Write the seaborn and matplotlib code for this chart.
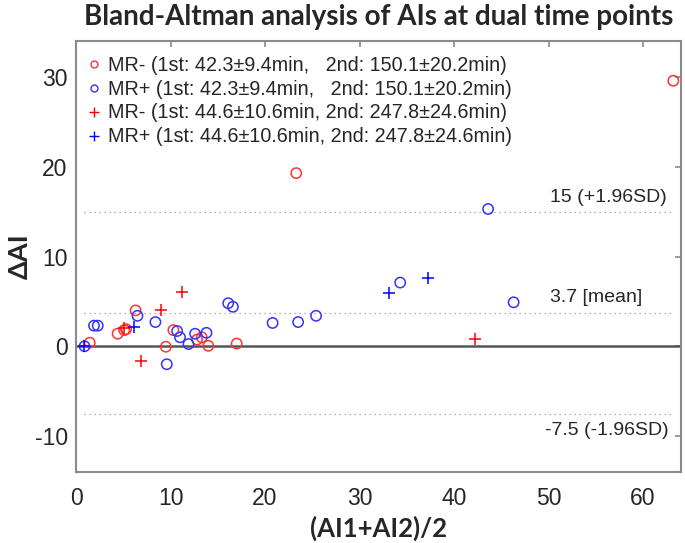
import matplotlib
matplotlib.use("Agg")
import matplotlib.pyplot as plt
import seaborn as sns
import numpy as np
import pandas as pd
from matplotlib.lines import Line2D

# MR- (1st scan pair) - red circles
mrm1_x = [1.45, 4.4, 5.1, 5.3, 6.3, 9.5, 10.3, 12.8, 13.3, 14.0, 17.0, 23.3, 63.2]
mrm1_y = [0.4, 1.4, 1.8, 1.9, 4.0, -0.05, 1.8, 0.75, 1.0, 0.05, 0.3, 19.3, 29.6]
# MR+ (1st scan pair) - blue circles
mrp1_x = [0.9, 1.9, 2.3, 6.5, 8.4, 9.6, 10.7, 11.0, 11.9, 12.6, 13.8, 16.1, 16.6,
          20.8, 23.5, 25.4, 34.3, 43.6, 46.3]
mrp1_y = [0.0, 2.3, 2.3, 3.4, 2.7, -2.0, 1.7, 1.0, 0.25, 1.4, 1.5, 4.8, 4.4,
          2.6, 2.7, 3.4, 7.1, 15.3, 4.9]
# MR- (2nd scan pair) - red plus
mrm2_x = [5.1, 6.9, 9.0, 11.2, 42.2]
mrm2_y = [2.0, -1.6, 4.0, 6.1, 0.85]
# MR+ (2nd scan pair) - blue plus
mrp2_x = [0.8, 6.1, 33.1, 37.2]
mrp2_y = [0.0, 2.1, 5.9, 7.6]

mean_diff = 3.7
upper_loa = 15
lower_loa = -7.5

legend_labels = [
    "MR- (1st: 42.3\u00b19.4min,   2nd: 150.1\u00b120.2min)",
    "MR+ (1st: 42.3\u00b19.4min,   2nd: 150.1\u00b120.2min)",
    "MR- (1st: 44.6\u00b110.6min, 2nd: 247.8\u00b124.6min)",
    "MR+ (1st: 44.6\u00b110.6min, 2nd: 247.8\u00b124.6min)",
]

sns.set_style("white")
plt.rcParams['font.family'] = ['Liberation Sans', 'DejaVu Sans']
plt.rcParams['axes.unicode_minus'] = False

red_c = "#ff3333"
blue_c = "#3333ff"
grey = "#8a8a8a"

fig = plt.figure(figsize=(6.85, 5.43), dpi=100)
ax = fig.add_axes([0.111, 0.131, 0.883, 0.793])

all_x = mrm1_x + mrp1_x + mrm2_x + mrp2_x
x0, x1 = min(all_x), max(all_x)

ax.axhline(0, color="#555555", lw=1.8, zorder=1)
for v in [upper_loa, mean_diff, lower_loa]:
    ax.plot([x0, x1], [v, v], ls=(0, (1, 3)), color="#999999", lw=0.9, zorder=1)

sns.scatterplot(x=mrm1_x, y=mrm1_y, marker="o", s=55, facecolor="none",
                edgecolor=red_c, linewidth=1.1, ax=ax, zorder=3)
sns.scatterplot(x=mrp1_x, y=mrp1_y, marker="o", s=55, facecolor="none",
                edgecolor=blue_c, linewidth=1.1, ax=ax, zorder=3)
sns.scatterplot(x=mrm2_x, y=mrm2_y, marker="+", s=80, color="red",
                linewidth=1.1, ax=ax, zorder=3)
sns.scatterplot(x=mrp2_x, y=mrp2_y, marker="+", s=80, color="blue",
                linewidth=1.1, ax=ax, zorder=3)

ax.set_xlim(0, 64)
ax.set_ylim(-14, 34)
ax.set_xticks([0, 10, 20, 30, 40, 50, 60])
ax.set_yticks([-10, 0, 10, 20, 30])
ax.tick_params(direction="in", length=4, width=1.2, color=grey, labelsize=16.5,
               top=True, right=True, pad=11)
ax.tick_params(axis="y", pad=6)
for sp in ax.spines.values():
    sp.set_color(grey)
    sp.set_linewidth(1.5)

ax.text(50.2, 16.6, "%g (+1.96SD)" % upper_loa, fontsize=14, va="center")
ax.text(50.2, 5.4, "%g [mean]" % mean_diff, fontsize=14, va="center")
ax.text(49.6, -9.4, "%g (-1.96SD)" % lower_loa, fontsize=14, va="center")

handles = [
    Line2D([], [], ls="none", marker="o", ms=5, mfc="none", mec=red_c),
    Line2D([], [], ls="none", marker="o", ms=5, mfc="none", mec=blue_c),
    Line2D([], [], ls="none", marker="+", ms=7, color="red"),
    Line2D([], [], ls="none", marker="+", ms=7, color="blue"),
]
ax.legend(handles, legend_labels, loc="upper left", frameon=False, fontsize=14.2,
          handlelength=0.7, handletextpad=0.35, labelspacing=0.25,
          borderaxespad=0.0, bbox_to_anchor=(0.005, 0.985))

bold_font = ['Lato', 'DejaVu Sans']
ax.set_title("Bland-Altman analysis of AIs at dual time points", fontsize=20,
             fontweight="bold", family=bold_font, pad=12)
ax.set_xlabel("(AI1+AI2)/2", fontsize=18.5, fontweight="bold", family=bold_font,
              labelpad=4)
ax.set_ylabel("\u0394AI", fontsize=19.5, fontweight="bold", family=bold_font,
              labelpad=2)

fig.savefig("out.png", dpi=100)
